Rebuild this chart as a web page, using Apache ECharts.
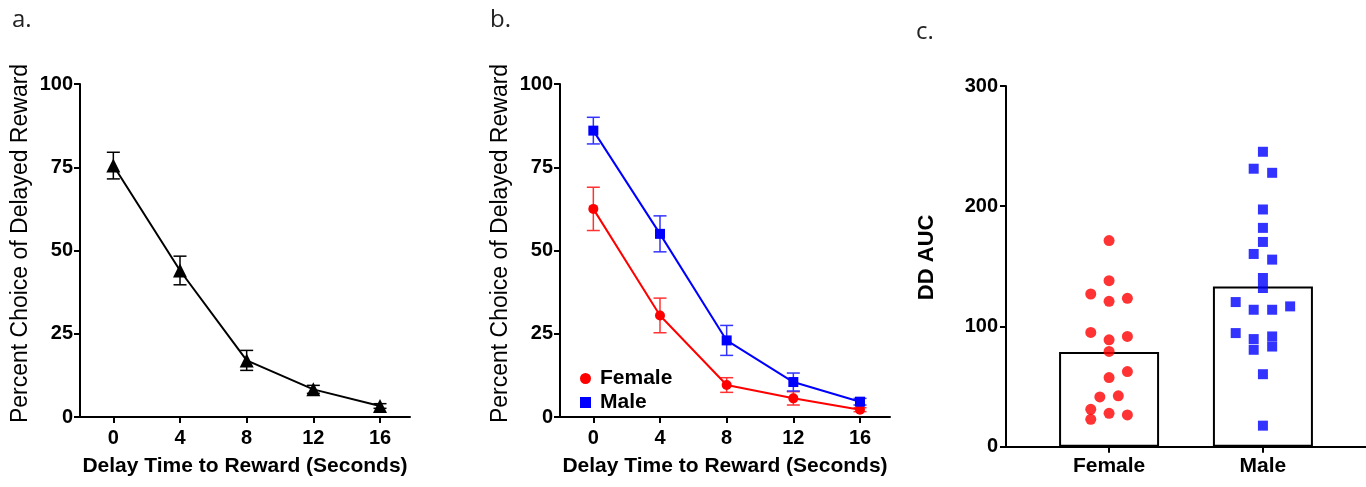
<!DOCTYPE html>
<html>
<head>
<meta charset="utf-8">
<script src="https://cdn.jsdelivr.net/npm/echarts@6/dist/echarts.min.js"></script>
<style>
html,body{margin:0;padding:0;background:#fff;}
#chart{width:1366px;height:487px;}
</style>
</head>
<body>
<div id="chart"></div>
<script>
// ---- data ----
const delays = [0, 4, 8, 12, 16];
const delayTicks = [0, 4, 8, 12, 16];
const pctTicks = [0, 25, 50, 75, 100];
const allMean = [75.5, 44, 17, 8.3, 3.3];
const allSem = [4, 4.3, 3, 1.2, 0.7];
const femaleMean = [62.5, 30.5, 9.6, 5.6, 2.2];
const femaleSem = [6.5, 5.2, 2.2, 2, 0.6];
const maleMean = [86, 55, 23, 10.5, 4.6];
const maleSem = [4, 5.4, 4.5, 2.7, 1];

const groups = ['Female', 'Male'];
const groupMeans = [78.7, 133.3];
const femaleAUC = [171.4, 138.1, 127.0, 120.9, 123.4, 95.0, 88.9, 91.7, 79.2, 62.5, 57.5, 41.4, 42.3, 31.1, 27.8, 26.4, 22.8];
const femaleJitter = [0, 0, -0.119, 0, 0.119, -0.119, 0, 0.119, 0, 0.119, 0, -0.06, 0.06, -0.119, 0, 0.119, -0.119];
const maleAUC = [245.3, 231.2, 227.8, 197.3, 182.0, 170.3, 160.3, 155.6, 140.3, 132.0, 120.3, 113.9, 113.9, 116.7, 94.5, 89.5, 91.7, 80.6, 83.3, 60.3, 17.5];
const maleJitter = [0, -0.06, 0.06, 0, 0, 0, -0.06, 0.06, 0, 0, -0.177, -0.06, 0.06, 0.177, -0.177, -0.06, 0.06, -0.06, 0.06, 0, 0];

// ---- helpers ----
const FONT = 'Liberation Sans';
function pairs(xs, ys) { return xs.map((x, i) => [x, ys[i]]); }
function triples(xs, ys, es) { return xs.map((x, i) => [x, ys[i], es[i]]); }
function errRender(color) {
  return function (params, api) {
    const x = api.value(0), y = api.value(1), e = api.value(2);
    const t = api.coord([x, y + e]), b = api.coord([x, y - e]);
    const hw = 6.5;
    const st = { stroke: color, lineWidth: 1.5 };
    return { type: 'group', children: [
      { type: 'line', shape: { x1: t[0], y1: t[1], x2: b[0], y2: b[1] }, style: st },
      { type: 'line', shape: { x1: t[0] - hw, y1: t[1], x2: t[0] + hw, y2: t[1] }, style: st },
      { type: 'line', shape: { x1: b[0] - hw, y1: b[1], x2: b[0] + hw, y2: b[1] }, style: st }
    ]};
  };
}
const axisLineStyle = { show: true, onZero: false, lineStyle: { color: '#000', width: 2 } };
const tickStyle = { show: true, length: 6, lineStyle: { color: '#000', width: 2 } };
const tickLabel = { color: '#000', fontFamily: FONT, fontWeight: 'bold', fontSize: 20 };

function delayXAxis(gi) {
  return {
    gridIndex: gi, type: 'value', min: -2, max: 17.8,
    axisLine: axisLineStyle, splitLine: { show: false },
    axisTick: Object.assign({ customValues: delayTicks }, tickStyle),
    axisLabel: Object.assign({ customValues: delayTicks, margin: 11 }, tickLabel),
    name: 'Delay Time to Reward (Seconds)', nameLocation: 'middle', nameGap: 39,
    nameTextStyle: { color: '#000', fontFamily: FONT, fontWeight: 'bold', fontSize: 21 }
  };
}
function pctYAxis(gi) {
  return {
    gridIndex: gi, type: 'value', min: 0, max: 100, interval: 25,
    axisLine: axisLineStyle, splitLine: { show: false },
    axisTick: tickStyle,
    axisLabel: Object.assign({ margin: 7 }, tickLabel),
    name: 'Percent Choice of Delayed Reward', nameLocation: 'middle', nameGap: 48,
    nameTextStyle: { color: '#000', fontFamily: FONT, fontWeight: 'normal', fontSize: 23, padding: [0, 0, 0, 14] }
  };
}

const chart = echarts.init(document.getElementById('chart'), null, { renderer: 'canvas' });
chart.setOption({
  animation: false,
  backgroundColor: '#fff',
  grid: [
    { left: 80, top: 84, width: 330, height: 333 },
    { left: 560, top: 84, width: 330, height: 333 },
    { left: 1006, top: 86, width: 360, height: 360.7 }
  ],
  xAxis: [
    delayXAxis(0),
    delayXAxis(1),
    {
      gridIndex: 2, type: 'value', min: -0.67, max: 1.67,
      axisLine: axisLineStyle, splitLine: { show: false },
      axisTick: Object.assign({ customValues: [0, 1] }, tickStyle),
      axisLabel: Object.assign({ customValues: [0, 1], margin: 9, formatter: v => groups[Math.round(v)] }, tickLabel, { fontSize: 21 })
    }
  ],
  yAxis: [
    pctYAxis(0),
    pctYAxis(1),
    {
      gridIndex: 2, type: 'value', min: 0, max: 300, interval: 100,
      axisLine: axisLineStyle, splitLine: { show: false },
      axisTick: tickStyle,
      axisLabel: Object.assign({ margin: 8 }, tickLabel),
      name: 'DD AUC', nameLocation: 'middle', nameGap: 68,
      nameTextStyle: { color: '#000', fontFamily: FONT, fontWeight: 'bold', fontSize: 22, padding: [0, 0, 0, 18] }
    }
  ],
  legend: {
    left: 575, top: 363, orient: 'vertical', itemGap: 3, itemWidth: 11, itemHeight: 11,
    textStyle: { color: '#000', fontFamily: FONT, fontWeight: 'bold', fontSize: 21, padding: [0, 0, 0, 4] },
    data: [{ name: 'Female', icon: 'circle' }, { name: 'Male', icon: 'rect' }]
  },
  graphic: [
    { type: 'text', left: 12, top: 8, style: { text: 'a.', fontFamily: 'Open Sans', fontSize: 24, fill: '#222' } },
    { type: 'text', left: 490, top: 8, style: { text: 'b.', fontFamily: 'Open Sans', fontSize: 24, fill: '#222' } },
    { type: 'text', left: 916, top: 20, style: { text: 'c.', fontFamily: 'Open Sans', fontSize: 24, fill: '#222' } }
  ],
  series: [
    { type: 'custom', xAxisIndex: 0, yAxisIndex: 0, renderItem: errRender('#000'), data: triples(delays, allMean, allSem), z: 2 },
    { type: 'line', xAxisIndex: 0, yAxisIndex: 0, data: pairs(delays, allMean), symbol: 'triangle', symbolSize: 14,
      lineStyle: { color: '#000', width: 2 }, itemStyle: { color: '#000' }, z: 3 },

    { type: 'custom', xAxisIndex: 1, yAxisIndex: 1, renderItem: errRender('#ff3333'), data: triples(delays, femaleMean, femaleSem), z: 2 },
    { type: 'custom', xAxisIndex: 1, yAxisIndex: 1, renderItem: errRender('#3333ff'), data: triples(delays, maleMean, maleSem), z: 2 },
    { name: 'Female', type: 'line', xAxisIndex: 1, yAxisIndex: 1, data: pairs(delays, femaleMean), symbol: 'circle', symbolSize: 10,
      lineStyle: { color: '#ff0000', width: 2 }, itemStyle: { color: '#ff0000' }, z: 3 },
    { name: 'Male', type: 'line', xAxisIndex: 1, yAxisIndex: 1, data: pairs(delays, maleMean), symbol: 'rect', symbolSize: 10,
      lineStyle: { color: '#0000ff', width: 2 }, itemStyle: { color: '#0000ff' }, z: 3 },

    { type: 'bar', xAxisIndex: 2, yAxisIndex: 2, data: pairs([0, 1], groupMeans), barWidth: 100,
      itemStyle: { color: '#fff', borderColor: '#000', borderWidth: 2 }, z: 1 },
    { type: 'scatter', xAxisIndex: 2, yAxisIndex: 2, data: femaleAUC.map((v, i) => [0 + femaleJitter[i], v]),
      symbol: 'circle', symbolSize: 11, itemStyle: { color: '#ff0000' }, z: 3 },
    { type: 'scatter', xAxisIndex: 2, yAxisIndex: 2, data: maleAUC.map((v, i) => [1 + maleJitter[i], v]),
      symbol: 'rect', symbolSize: 10, itemStyle: { color: '#0000ff' }, z: 3 }
  ]
});
</script>
</body>
</html>
